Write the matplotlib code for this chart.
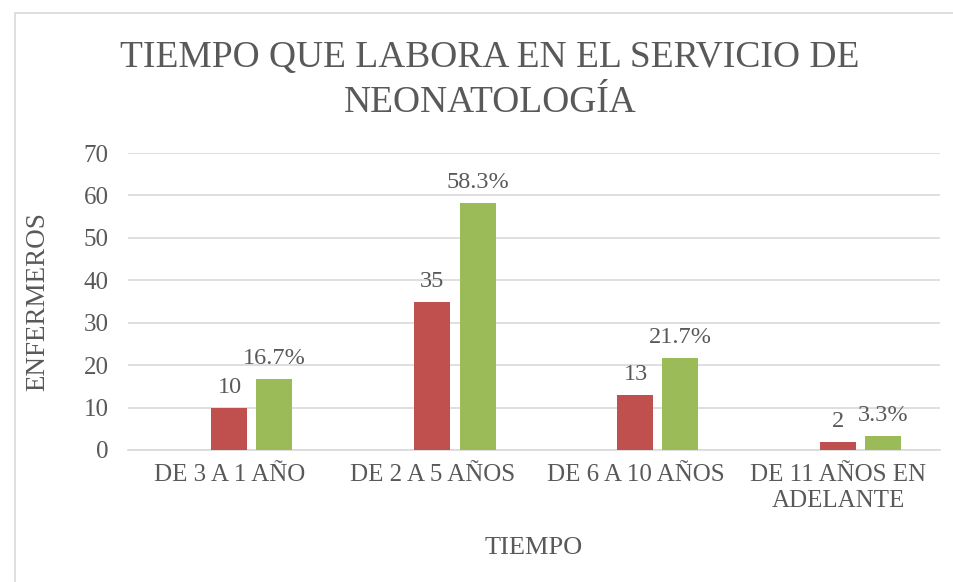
import matplotlib
matplotlib.use("Agg")
import matplotlib.pyplot as plt
import numpy as np

categories = ["DE 3 A 1 AÑO", "DE 2 A 5 AÑOS", "DE 6 A 10 AÑOS", "DE 11 AÑOS EN\nADELANTE"]
series_blank = [0, 0, 0, 0]
enfermeros = [10, 35, 13, 2]
porcentaje = [16.7, 58.3, 21.7, 3.3]
yticks = [0, 10, 20, 30, 40, 50, 60, 70]

TXT = "#595959"
RED = "#C0504D"
GREEN = "#9BBB59"
GRID = "#D9D9D9"
SERIF = ['Liberation Serif', 'DejaVu Serif']
plt.rcParams['font.family'] = SERIF

fig = plt.figure(figsize=(9.54, 5.82), dpi=100)
fig.patches.append(matplotlib.patches.Rectangle((15/954, -0.01), 2, 1 - 13/582 + 0.01,
                   transform=fig.transFigure, fill=False, edgecolor="#D9D9D9", lw=1.2))
ax = fig.add_axes([128/954, 1 - 450/582, (940-128)/954, (450-153)/582])

x = np.arange(len(categories))
step = 45/203
w = 36/203
ax.bar(x - step, series_blank, w, color="none")
ax.bar(x, enfermeros, w, color=RED, zorder=3)
ax.bar(x + step, porcentaje, w, color=GREEN, zorder=3)

for xi, v in zip(x, enfermeros):
    ax.annotate(f"{v}", (xi, v), xytext=(0, 7), textcoords="offset points",
                ha="center", va="bottom", fontsize=17.5, color=TXT)
for xi, v in zip(x, porcentaje):
    ax.annotate(f"{v:.1f}%", (xi + step, v), xytext=(0, 7), textcoords="offset points",
                ha="center", va="bottom", fontsize=17.5, color=TXT)

ax.set_xlim(-0.5, len(categories) - 0.5)
ax.set_ylim(0, 70)
ax.set_yticks(yticks)
ax.set_xticks(x)
ax.set_xticklabels(categories, linespacing=1.25)
ax.tick_params(axis="both", length=0, labelsize=18, labelcolor=TXT)
ax.tick_params(axis="x", pad=10)
ax.tick_params(axis="y", pad=14)
ax.yaxis.grid(True, color=GRID, lw=1.2, zorder=0)
ax.set_axisbelow(True)
for s in ["top", "right", "left"]:
    ax.spines[s].set_visible(False)
ax.spines["bottom"].set_color(GRID)
ax.spines["bottom"].set_linewidth(1.2)

ax.set_xlabel("TIEMPO", fontsize=19, color=TXT, labelpad=18)
ax.set_ylabel("ENFERMEROS", fontsize=19.5, color=TXT, labelpad=24)

fig.text(490/954, 1 - 80/582, "TIEMPO QUE LABORA EN EL SERVICIO DE\nNEONATOLOGÍA",
         ha="center", va="center", fontsize=27, color=TXT, linespacing=1.4,
         family=SERIF)

fig.savefig("out.png", dpi=100)
